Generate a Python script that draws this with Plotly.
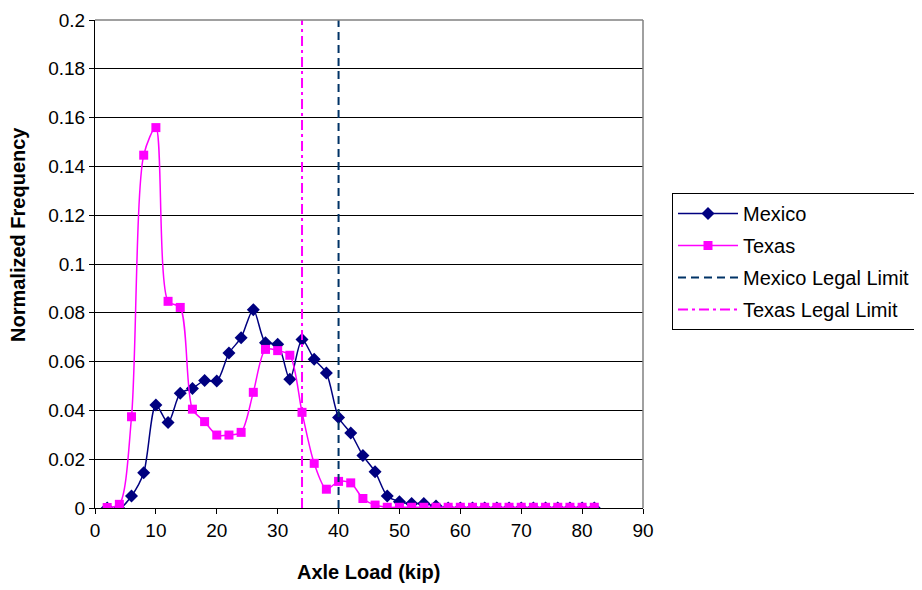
import plotly.graph_objects as go

axle_load = [2, 4, 6, 8, 10, 12, 14, 16, 18, 20, 22, 24, 26, 28, 30, 32, 34, 36, 38, 40,
             42, 44, 46, 48, 50, 52, 54, 56, 58, 60, 62, 64, 66, 68, 70, 72, 74, 76, 78, 80, 82]

mexico = [0.0, -0.0003, 0.0049, 0.0144, 0.0422, 0.035, 0.047, 0.049, 0.0523, 0.052,
          0.0635, 0.0698, 0.0813, 0.0677, 0.0671, 0.0528, 0.0691, 0.061, 0.0553, 0.0371,
          0.0307, 0.0215, 0.0149, 0.0049, 0.0026, 0.0018, 0.0018, 0.0008, 0.0, 0.0,
          0.0, 0.0, 0.0, 0.0, 0.0, 0.0, 0.0, 0.0, 0.0, 0.0, 0.0]

texas = [0.0002, 0.0015, 0.0374, 0.1446, 0.1559, 0.0847, 0.0822, 0.0405, 0.0354, 0.0299,
         0.0299, 0.031, 0.0474, 0.065, 0.0645, 0.0626, 0.0392, 0.0183, 0.0077, 0.0109,
         0.0103, 0.0039, 0.0012, 0.0003, 0.0003, 0.0003, 0.0003, 0.0003, 0.0003, 0.0003,
         0.0003, 0.0003, 0.0003, 0.0003, 0.0003, 0.0003, 0.0003, 0.0003, 0.0003, 0.0003, 0.0003]

mexico_limit = 40
texas_limit = 34
y_range = [0, 0.2]

fig = go.Figure()
fig.add_trace(go.Scatter(
    x=axle_load, y=mexico, name="Mexico", mode="lines+markers", legendgroup="a",
    line=dict(color="#000080", width=1.5, shape="spline", smoothing=0.8),
    marker=dict(symbol="diamond", size=10, color="#000080")))
fig.add_trace(go.Scatter(
    x=axle_load, y=texas, name="Texas", mode="lines+markers", legendgroup="b",
    line=dict(color="#FF00FF", width=1.5, shape="spline", smoothing=0.8),
    marker=dict(symbol="square", size=9, color="#FF00FF")))
fig.add_trace(go.Scatter(
    x=[mexico_limit, mexico_limit], y=y_range, name="Mexico Legal Limit", mode="lines",
    legendgroup="c",
    line=dict(color="#003366", width=2, dash="8px,5px")))
fig.add_trace(go.Scatter(
    x=[texas_limit, texas_limit], y=y_range, name="Texas Legal Limit", mode="lines",
    legendgroup="d",
    line=dict(color="#FF00FF", width=2, dash="10px,4px,3px,4px")))

# the page body has an 8px margin, so the figure is sized/offset to compensate
W, H = 914, 582
font = "Liberation Sans, Arial, sans-serif"
fig.update_layout(
    width=W, height=H,
    margin=dict(l=87, r=279, t=12, b=82, autoexpand=False),
    paper_bgcolor="white", plot_bgcolor="white",
    font=dict(family=font, size=19, color="black"),
    showlegend=True,
    legend=dict(xref="container", yref="container", x=(672 - 8) / W, y=1 - (193 - 8) / H,
                xanchor="left", yanchor="top",
                bordercolor="black", borderwidth=1, bgcolor="white",
                font=dict(size=20), itemwidth=60, tracegroupgap=3,
                traceorder="grouped"),
    xaxis=dict(range=[0, 90], dtick=10, showgrid=False, zeroline=False,
               showline=True, linecolor="black", linewidth=1, mirror=False,
               ticks="outside", ticklen=5, tickcolor="black", automargin=False,
               tickfont=dict(size=19)),
    yaxis=dict(range=y_range, dtick=0.02, showgrid=True, gridcolor="black", gridwidth=1,
               zeroline=False, showline=True, linecolor="black", linewidth=1,
               ticks="outside", ticklen=5, tickcolor="black", automargin=False,
               tickformat="~g", tickfont=dict(size=19), ticklabeloverflow="allow"),
    annotations=[
        dict(text="<b>Axle Load (kip)</b>", xref="paper", yref="paper",
             x=0.499, y=-0.1311, xanchor="center", yanchor="middle", showarrow=False,
             font=dict(size=20)),
        dict(text="<b>Normalized Frequency</b>", xref="paper", yref="paper",
             x=-0.1405, y=0.5594, xanchor="center", yanchor="middle", showarrow=False,
             textangle=-90, font=dict(size=20)),
    ],
    shapes=[dict(type="line", xref="paper", yref="paper", x0=1, x1=1, y0=0, y1=1,
                 line=dict(color="#808080", width=1.5)),
            dict(type="line", xref="paper", yref="paper", x0=0, x1=1, y0=1, y1=1,
                 line=dict(color="#808080", width=1.5))],
)

fig.write_html("out.html")
